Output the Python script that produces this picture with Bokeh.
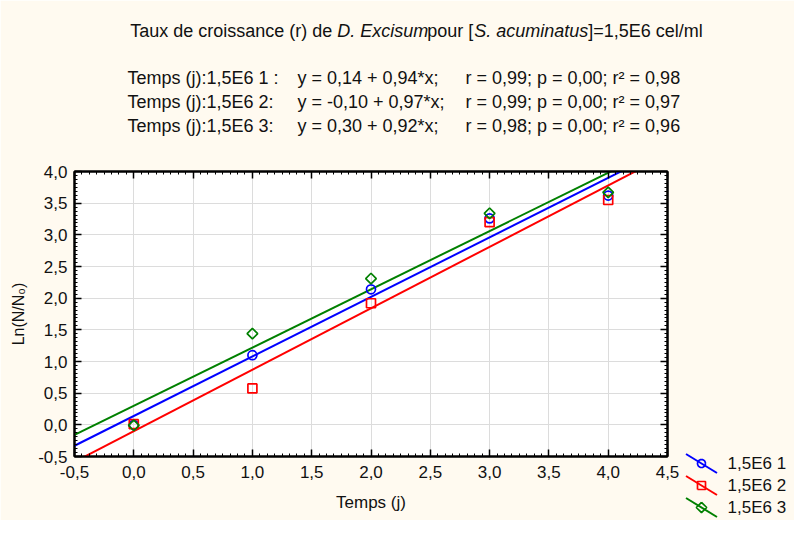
import math
from bokeh.plotting import figure
from bokeh.models import Range1d, LinearAxis, FixedTicker, CustomJSTickFormatter
from bokeh.core.properties import value
from bokeh.embed import file_html
from bokeh.resources import INLINE

# ---------------- data ----------------
days = [0, 1, 2, 3, 4]
series_labels = ["1,5E6 1", "1,5E6 2", "1,5E6 3"]
ln_ratio_1 = [0.00, 1.10, 2.14, 3.26, 3.62]
ln_ratio_2 = [0.01, 0.575, 1.92, 3.20, 3.55]
ln_ratio_3 = [-0.01, 1.44, 2.31, 3.34, 3.67]
fit_intercepts = [0.14, -0.10, 0.30]
fit_slopes = [0.94, 0.97, 0.92]
fit_r = [0.99, 0.99, 0.98]
fit_p = [0.00, 0.00, 0.00]
fit_r2 = [0.98, 0.97, 0.96]
eq_prefixes = ["Temps (j):1,5E6 1 :", "Temps (j):1,5E6 2:", "Temps (j):1,5E6 3:"]
x_tick_values = [-0.5, 0.0, 0.5, 1.0, 1.5, 2.0, 2.5, 3.0, 3.5, 4.0, 4.5]
y_tick_values = [-0.5, 0.0, 0.5, 1.0, 1.5, 2.0, 2.5, 3.0, 3.5, 4.0]
title_parts = [("Taux de croissance (r) de ", "normal"), ("D. Excisum", "italic"),
               (" pour [", "normal"), ("S. acuminatus", "italic"), ("]=1,5E6 cel/ml", "normal")]
x_label = "Temps (j)"
y_label = "Ln(N/N\u2080)"

# ---------------- styles / layout ----------------
series_values = [ln_ratio_1, ln_ratio_2, ln_ratio_3]
colors = ["#0000FF", "#FF0000", "#008000"]
markers = [("circle", 9, 0.0), ("square", 9, 0.0), ("square", 7.5, math.pi / 4)]
FONT = "Liberation Sans"
TXT = "#111111"
CREAM = "#FFFAF0"
W, H = 794, 520
ML, MR, MT, MB = 74, 127, 171, 64
FW, FH = W - ML - MR, H - MT - MB
FRAME_L = ML
FRAME_B = MT + FH

ARIAL = {' ': 278, 'a': 556, 'b': 556, 'c': 500, 'd': 556, 'e': 556, 'f': 278, 'g': 556, 'h': 556,
         'i': 222, 'j': 222, 'k': 500, 'l': 222, 'm': 833, 'n': 556, 'o': 556, 'p': 556, 'q': 556,
         'r': 333, 's': 500, 't': 278, 'u': 556, 'v': 500, 'w': 722, 'x': 500, 'y': 500, 'z': 500,
         'T': 611, 'D': 722, 'E': 667, 'S': 667, '(': 333, ')': 333, '[': 278, ']': 278, '=': 584,
         ',': 278, '.': 278, '/': 278, ':': 278, ';': 278, '+': 584, '-': 333, '*': 389, '\u00b2': 333}


def text_w(s, size):
    return sum(ARIAL.get(ch, 556) for ch in s) / 1000.0 * size


def fr(v):
    return f"{v:.2f}".replace(".", ",")


p = figure(width=W, height=H, x_range=Range1d(-0.5, 4.5), y_range=Range1d(-0.5, 4.0),
           output_backend="svg", toolbar_location=None,
           min_border_left=ML, min_border_right=MR, min_border_top=MT, min_border_bottom=MB,
           background_fill_color="white", border_fill_color=CREAM,
           outline_line_color="black", outline_line_width=2)

minor_x = [x_tick_values[0] + k * 0.5 / 8 for k in range(8 * (len(x_tick_values) - 1) + 1)]
minor_y = [y_tick_values[0] + k * 0.5 / 8 for k in range(8 * (len(y_tick_values) - 1) + 1)]
xt = FixedTicker(ticks=x_tick_values, minor_ticks=minor_x)
yt = FixedTicker(ticks=y_tick_values, minor_ticks=minor_y)
fmt = CustomJSTickFormatter(code="return tick.toFixed(1).replace('.', ',');")
blank = CustomJSTickFormatter(code="return '';")


def style_axis(ax):
    ax.axis_line_width = 2
    ax.axis_line_color = "black"
    ax.major_tick_in = 7
    ax.major_tick_out = 0
    ax.minor_tick_in = 3
    ax.minor_tick_out = 0
    ax.major_tick_line_color = "black"
    ax.minor_tick_line_color = "black"
    ax.major_tick_line_width = 1.5
    ax.major_label_text_font = FONT
    ax.major_label_text_font_size = "17px"
    ax.major_label_text_color = TXT
    ax.axis_label_text_font = FONT
    ax.axis_label_text_font_size = "17px"
    ax.axis_label_text_font_style = "normal"
    ax.axis_label_text_color = TXT


xa = p.xaxis[0]
ya = p.yaxis[0]
xa.ticker = xt
ya.ticker = yt
xa.formatter = fmt
ya.formatter = fmt
style_axis(xa)
style_axis(ya)
ya.axis_label_text_font_size = "16px"
xa.axis_label = x_label
ya.axis_label = y_label
xa.major_label_standoff = 9
ya.major_label_standoff = 7
xa.axis_label_standoff = 12
ya.axis_label_standoff = 8

top = LinearAxis(ticker=xt, formatter=blank, major_label_standoff=0)
right = LinearAxis(ticker=yt, formatter=blank, major_label_standoff=0)
style_axis(top)
style_axis(right)
p.add_layout(top, "above")
p.add_layout(right, "right")

p.xgrid.ticker = xt
p.ygrid.ticker = yt
p.xgrid.grid_line_color = "#DCDCDC"
p.ygrid.grid_line_color = "#DCDCDC"

x_fit = [x_tick_values[0], x_tick_values[-1]]
for i in range(3):
    a, b = fit_intercepts[i], fit_slopes[i]
    p.line(x_fit, [a + b * x for x in x_fit], line_color=colors[i], line_width=2)
for i in range(3):
    m, s, ang = markers[i]
    p.scatter(days, series_values[i], marker=m, size=s, angle=ang,
              line_color=colors[i], fill_color=None, line_width=1.7)

# ---------------- overlay coordinate system in pixels (frame-relative, y up) ----------------
p.extra_x_ranges = {"px": Range1d(0, FW)}
p.extra_y_ranges = {"py": Range1d(0, FH)}
OV = dict(x_range_name="px", y_range_name="py", level="overlay")


def put_text(X, Y, t, size, style="normal", align="left"):
    p.text(x=[X - FRAME_L], y=[FRAME_B - Y], text=[t], text_font=value(FONT),
           text_font_size=value(f"{size}px"), text_font_style=style, text_color=TXT,
           text_baseline="middle", text_align=align, **OV)


def shape(kind, cx, cy, r):
    if kind == 0:
        n = 20
        return ([cx + r * math.cos(2 * math.pi * k / n) for k in range(n + 1)],
                [cy + r * math.sin(2 * math.pi * k / n) for k in range(n + 1)])
    if kind == 1:
        return ([cx - r, cx + r, cx + r, cx - r, cx - r], [cy - r, cy - r, cy + r, cy + r, cy - r])
    d = r * 1.3
    return ([cx, cx + d, cx, cx - d, cx], [cy + d, cy, cy - d, cy, cy + d])


# ---------------- custom legend (diagonal line + marker) ----------------
LEG_CX = 701 - FRAME_L
for i in range(3):
    Yc = 463 + 22 * i
    cy = FRAME_B - Yc
    p.segment(x0=[LEG_CX - 15.5], y0=[cy + 9.5], x1=[LEG_CX + 15.5], y1=[cy - 9.5],
              line_color=colors[i], line_width=2, **OV)
    sx, sy = shape(i, LEG_CX, cy, 4.0)
    p.multi_line(xs=[sx], ys=[sy], line_color=colors[i], line_width=1.7, **OV)
    put_text(727, Yc, series_labels[i], 17)

# ---------------- title (mixed italic) ----------------
TS = 18
title_adjust = [-2, -1, -4, 0, 0]
tw = sum(text_w(t, TS) for t, _ in title_parts) + sum(title_adjust)
x0 = 416 - tw / 2
for (t, st), adj in zip(title_parts, title_adjust):
    put_text(x0, 30, t, TS, st)
    x0 += text_w(t, TS) + adj

# ---------------- regression equations ----------------
ES = 18
for i in range(3):
    Y = 77 + 24 * i
    segs = [(eq_prefixes[i], 127),
            (f"y = {fr(fit_intercepts[i])} + {fr(fit_slopes[i])}*x;", 297),
            (f"r = {fr(fit_r[i])}; p = {fr(fit_p[i])}; r\u00b2 = {fr(fit_r2[i])}", 465)]
    for t, xs in segs:
        put_text(xs, Y, t, ES)

open("out.html", "w").write(file_html(p, INLINE))
